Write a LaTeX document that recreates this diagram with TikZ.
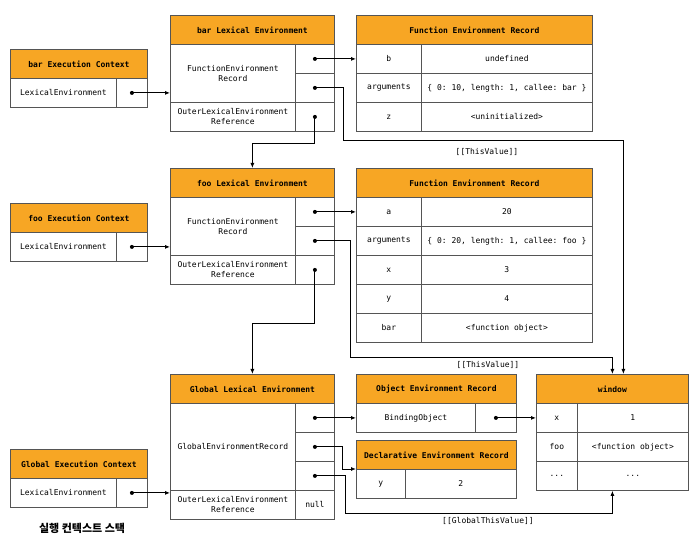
\documentclass[tikz,border=0pt]{standalone}
\usepackage{fontspec}
\setmonofont{DejaVu Sans Mono}
\newfontfamily\krfont{Noto Sans CJK KR}
\definecolor{leorange}{RGB}{247,166,36}
\definecolor{legray}{RGB}{85,85,85}
\usetikzlibrary{arrows.meta,positioning,calc}

\begin{document}
\begin{tikzpicture}[
  x=1pt, y=-1pt,
  every node/.style={font=\ttfamily\fontsize{8}{10}\selectfont},
  cell/.style={draw=legray,line width=0.8pt,fill=white,anchor=north west,
               inner sep=0pt,align=center},
  hdr/.style={cell,fill=leorange,font=\ttfamily\bfseries\fontsize{8}{10}\selectfont},
  ptrdot/.style={circle,fill=black,inner sep=0pt,minimum size=4pt},
  ptr/.style={line width=0.9pt,-{Latex[length=5pt,width=4pt]}},
  lbl/.style={font=\ttfamily\fontsize{8}{10}\selectfont},
]
  \useasboundingbox (0,0) rectangle (697,548);

  % bar execution context
  \node[hdr,minimum width=137pt,minimum height=29pt] (barEC) at (10,49) {bar Execution Context};
  \node[cell,minimum width=106pt,minimum height=29pt] (barECle) at (10,78) {LexicalEnvironment};
  \node[cell,minimum width=31pt,minimum height=29pt] (barECptr) at (116,78) {};
  \node[ptrdot] (barECdot) at (barECptr.center) {};

  % bar lexical environment
  \node[hdr,minimum width=164pt,minimum height=29pt] (barLE) at (170,15) {bar Lexical Environment};
  \node[cell,minimum width=125pt,minimum height=58pt] (barLErec) at (170,44) {FunctionEnvironment\\Record};
  \node[cell,minimum width=39pt,minimum height=29pt] (barLEp1) at (295,44) {};
  \node[cell,minimum width=39pt,minimum height=29pt] (barLEp2) at (295,73) {};
  \node[cell,minimum width=125pt,minimum height=29pt] (barLEouter) at (170,102) {OuterLexicalEnvironment\\Reference};
  \node[cell,minimum width=39pt,minimum height=29pt] (barLEp3) at (295,102) {};
  \node[ptrdot] (barLEd1) at (barLEp1.center) {};
  \node[ptrdot] (barLEd2) at (barLEp2.center) {};
  \node[ptrdot] (barLEd3) at (barLEp3.center) {};

  % bar function environment record
  \node[hdr,minimum width=236pt,minimum height=29pt] (barFER) at (356,15) {Function Environment Record};
  \node[cell,minimum width=65pt,minimum height=29pt] (barFERb) at (356,44) {b};
  \node[cell,minimum width=171pt,minimum height=29pt] (barFERbv) at (421,44) {undefined};
  \node[cell,minimum width=65pt,minimum height=29pt] (barFERargs) at (356,73) {arguments};
  \node[cell,minimum width=171pt,minimum height=29pt] (barFERargsv) at (421,73) {\{ 0: 10, length: 1, callee: bar \}};
  \node[cell,minimum width=65pt,minimum height=29pt] (barFERz) at (356,102) {z};
  \node[cell,minimum width=171pt,minimum height=29pt] (barFERzv) at (421,102) {<uninitialized>};

  % foo execution context
  \node[hdr,minimum width=137pt,minimum height=29pt] (fooEC) at (10,203) {foo Execution Context};
  \node[cell,minimum width=106pt,minimum height=29pt] (fooECle) at (10,232) {LexicalEnvironment};
  \node[cell,minimum width=31pt,minimum height=29pt] (fooECptr) at (116,232) {};
  \node[ptrdot] (fooECdot) at (fooECptr.center) {};

  % foo lexical environment
  \node[hdr,minimum width=164pt,minimum height=29pt] (fooLE) at (170,168) {foo Lexical Environment};
  \node[cell,minimum width=125pt,minimum height=58pt] (fooLErec) at (170,197) {FunctionEnvironment\\Record};
  \node[cell,minimum width=39pt,minimum height=29pt] (fooLEp1) at (295,197) {};
  \node[cell,minimum width=39pt,minimum height=29pt] (fooLEp2) at (295,226) {};
  \node[cell,minimum width=125pt,minimum height=29pt] (fooLEouter) at (170,255) {OuterLexicalEnvironment\\Reference};
  \node[cell,minimum width=39pt,minimum height=29pt] (fooLEp3) at (295,255) {};
  \node[ptrdot] (fooLEd1) at (fooLEp1.center) {};
  \node[ptrdot] (fooLEd2) at (fooLEp2.center) {};
  \node[ptrdot] (fooLEd3) at (fooLEp3.center) {};

  % foo function environment record
  \node[hdr,minimum width=236pt,minimum height=29pt] (fooFER) at (356,168) {Function Environment Record};
  \node[cell,minimum width=65pt,minimum height=29pt] (fooFERa) at (356,197) {a};
  \node[cell,minimum width=171pt,minimum height=29pt] (fooFERav) at (421,197) {20};
  \node[cell,minimum width=65pt,minimum height=29pt] (fooFERargs) at (356,226) {arguments};
  \node[cell,minimum width=171pt,minimum height=29pt] (fooFERargsv) at (421,226) {\{ 0: 20, length: 1, callee: foo \}};
  \node[cell,minimum width=65pt,minimum height=29pt] (fooFERx) at (356,255) {x};
  \node[cell,minimum width=171pt,minimum height=29pt] (fooFERxv) at (421,255) {3};
  \node[cell,minimum width=65pt,minimum height=29pt] (fooFERy) at (356,284) {y};
  \node[cell,minimum width=171pt,minimum height=29pt] (fooFERyv) at (421,284) {4};
  \node[cell,minimum width=65pt,minimum height=29pt] (fooFERbar) at (356,313) {bar};
  \node[cell,minimum width=171pt,minimum height=29pt] (fooFERbarv) at (421,313) {<function object>};

  % global execution context
  \node[hdr,minimum width=137pt,minimum height=29pt] (glEC) at (10,449) {Global Execution Context};
  \node[cell,minimum width=106pt,minimum height=29pt] (glECle) at (10,478) {LexicalEnvironment};
  \node[cell,minimum width=31pt,minimum height=29pt] (glECptr) at (116,478) {};
  \node[ptrdot] (glECdot) at (glECptr.center) {};
  \node[font=\krfont\bfseries\fontsize{11}{13}\selectfont] (stacklbl) at (82,528) {실행 컨텍스트 스택};

  % global lexical environment
  \node[hdr,minimum width=164pt,minimum height=29pt] (glLE) at (170,374) {Global Lexical Environment};
  \node[cell,minimum width=125pt,minimum height=87pt] (glLErec) at (170,403) {GlobalEnvironmentRecord};
  \node[cell,minimum width=39pt,minimum height=29pt] (glLEp1) at (295,403) {};
  \node[cell,minimum width=39pt,minimum height=29pt] (glLEp2) at (295,432) {};
  \node[cell,minimum width=39pt,minimum height=29pt] (glLEp3) at (295,461) {};
  \node[cell,minimum width=125pt,minimum height=29pt] (glLEouter) at (170,490) {OuterLexicalEnvironment\\Reference};
  \node[cell,minimum width=39pt,minimum height=29pt] (glLEnull) at (295,490) {null};
  \node[ptrdot] (glLEd1) at (glLEp1.center) {};
  \node[ptrdot] (glLEd2) at (glLEp2.center) {};
  \node[ptrdot] (glLEd3) at (glLEp3.center) {};

  % object / declarative environment records
  \node[hdr,minimum width=160pt,minimum height=29pt] (oer) at (356,374) {Object Environment Record};
  \node[cell,minimum width=119pt,minimum height=29pt] (oerkey) at (356,403) {BindingObject};
  \node[cell,minimum width=41pt,minimum height=29pt] (oerptr) at (475,403) {};
  \node[ptrdot] (oerdot) at (oerptr.center) {};
  \node[hdr,minimum width=160pt,minimum height=29pt] (der) at (356,440) {Declarative Environment Record};
  \node[cell,minimum width=49pt,minimum height=29pt] (derkey) at (356,469) {y};
  \node[cell,minimum width=111pt,minimum height=29pt] (derval) at (405,469) {2};

  % window object
  \node[hdr,minimum width=152pt,minimum height=29pt] (win) at (536,374) {window};
  \node[cell,minimum width=41pt,minimum height=29pt] (winxk) at (536,403) {x};
  \node[cell,minimum width=111pt,minimum height=29pt] (winxv) at (577,403) {1};
  \node[cell,minimum width=41pt,minimum height=29pt] (winfook) at (536,432) {foo};
  \node[cell,minimum width=111pt,minimum height=29pt] (winfoov) at (577,432) {<function object>};
  \node[cell,minimum width=41pt,minimum height=29pt] (winrestk) at (536,461) {...};
  \node[cell,minimum width=111pt,minimum height=29pt] (winrestv) at (577,461) {...};

  % pointers
  \draw[ptr] (barECdot.center) -- (barECdot.center -| barLErec.west);
  \draw[ptr] (barLEd1.center) -- (barLEd1.center -| barFERb.west);
  \draw[ptr] (barLEd2.center) -| (343,140) -| ([xshift=11pt]win.north);
  \draw[ptr] (barLEd3.center) -- ++(0,26.5) -| (fooLE.north);

  \draw[ptr] (fooECdot.center) -- (fooECdot.center -| fooLErec.west);
  \draw[ptr] (fooLEd1.center) -- (fooLEd1.center -| fooFERa.west);
  \draw[ptr] (fooLEd2.center) -| (350,357) -| (win.north);
  \draw[ptr] (fooLEd3.center) -- ++(0,53.5) -| (glLE.north);

  \draw[ptr] (glECdot.center) -- (glECdot.center -| glLEouter.west);
  \draw[ptr] (glLEd1.center) -- (glLEd1.center -| oerkey.west);
  \draw[ptr] (glLEd2.center) -| (342,469) -- (derkey.north west);
  \draw[ptr] (glLEd3.center) -| (345,513) -| (win.north |- winrestv.south);
  \draw[ptr] (oerdot.center) -- (oerdot.center -| winxk.west);

  % labels
  \node[lbl] (thisbar) at (487,152) {[[ThisValue]]};
  \node[lbl] (thisfoo) at (488,365) {[[ThisValue]]};
  \node[lbl] (thisglobal) at (488,521) {[[GlobalThisValue]]};
\end{tikzpicture}
\end{document}
